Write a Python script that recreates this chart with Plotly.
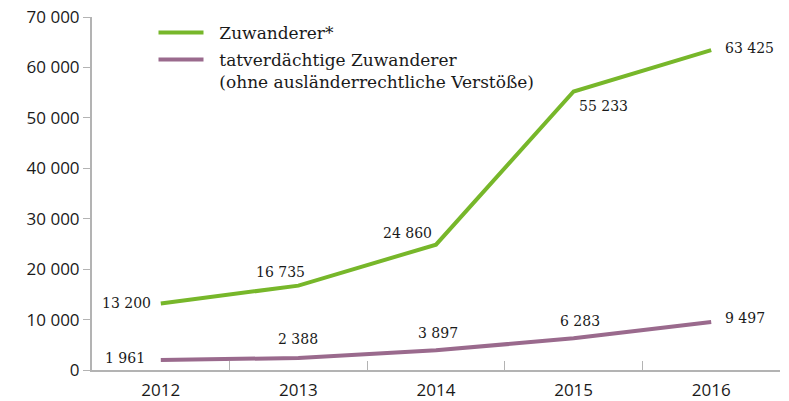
import plotly.graph_objects as go

years = ["2012", "2013", "2014", "2015", "2016"]
zuwanderer = [13200, 16735, 24860, 55233, 63425]
tatverdaechtige = [1961, 2388, 3897, 6283, 9497]
zuw_labels = ["13 200", "16 735", "24 860", "55 233", "63 425"]
tat_labels = ["1 961", "2 388", "3 897", "6 283", "9 497"]
y_ticks = [0, 10000, 20000, 30000, 40000, 50000, 60000, 70000]
y_tick_labels = ["0", "10 000", "20 000", "30 000", "40 000", "50 000", "60 000", "70 000"]

GREEN = "#77b72a"
PURPLE = "#9a6a8d"
TEXT = "#1a1a1a"
AXIS = "#b3b3b3"
SERIF = "DejaVu Serif"
SANS = "Open Sans"
NB = "\u00a0\u00a0"

fig = go.Figure()
fig.add_trace(go.Scatter(
    x=years, y=zuwanderer, mode="lines", name=NB + "Zuwanderer*",
    line=dict(color=GREEN, width=4), legendgroup="a",
))
fig.add_trace(go.Scatter(
    x=years, y=tatverdaechtige, mode="lines",
    name=NB + "tatverdächtige Zuwanderer<br>" + NB + "(ohne ausländerrechtliche Verstöße)",
    line=dict(color=PURPLE, width=4), legendgroup="b",
))

# label placement offsets (anchor, xshift, yshift)
zuw_place = [("right", -8, 0), ("center", -18, 14), ("right", -2, 12), ("left", 3, -15), ("left", 12, 2)]
tat_place = [("right", -14, 2), ("center", 0, 19), ("center", 2, 17), ("center", 6, 17), ("left", 12, 4)]

for i, yr in enumerate(years):
    a, xs, ys = zuw_place[i]
    fig.add_annotation(x=i, y=zuwanderer[i], text=zuw_labels[i], showarrow=False,
                       xref="x", yref="y",
                       xanchor=a, yanchor="middle", xshift=xs, yshift=ys,
                       font=dict(family=SERIF, size=14, color=TEXT))
    a, xs, ys = tat_place[i]
    fig.add_annotation(x=i, y=tatverdaechtige[i], text=tat_labels[i], showarrow=False,
                       xref="x", yref="y",
                       xanchor=a, yanchor="middle", xshift=xs, yshift=ys,
                       font=dict(family=SERIF, size=14, color=TEXT))

fig.update_layout(
    width=789, height=401,
    margin=dict(l=92, r=9, t=17, b=31),
    paper_bgcolor="white", plot_bgcolor="white",
    showlegend=True,
    legend=dict(x=0.0894, y=1.006, xanchor="left", yanchor="top",
                font=dict(family=SERIF, size=17, color=TEXT),
                bgcolor="rgba(0,0,0,0)", valign="top", tracegroupgap=2,
                itemwidth=45),
    xaxis=dict(
        type="category", range=[-0.5, 4.5], automargin=False,
        showline=True, linecolor=AXIS, linewidth=2,
        ticks="inside", tickson="boundaries", ticklen=9, tickcolor=AXIS, tickwidth=1,
        showgrid=False, zeroline=False, ticklabelstandoff=4,
        tickfont=dict(family=SANS, size=17, color=TEXT),
    ),
    yaxis=dict(
        range=[0, 70000], tickvals=y_ticks, ticktext=y_tick_labels, automargin=False,
        showline=True, linecolor=AXIS, linewidth=2,
        ticks="outside", ticklen=7, tickcolor=AXIS, tickwidth=1,
        showgrid=False, zeroline=False,
        tickfont=dict(family=SANS, size=17, color=TEXT),
    ),
)

fig.write_html("out.html", config={"displayModeBar": False},
               post_script="document.body.style.margin='0';document.body.style.overflow='hidden';")
